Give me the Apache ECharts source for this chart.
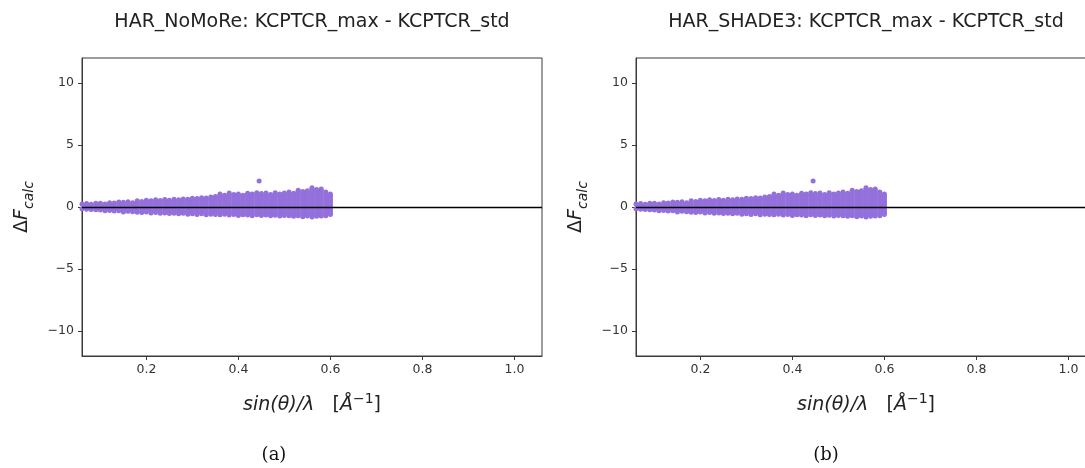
<!DOCTYPE html>
<html>
<head>
<meta charset="utf-8">
<script src="https://cdn.jsdelivr.net/npm/echarts@6/dist/echarts.min.js"></script>
<style>
  html, body { margin: 0; padding: 0; background: #fff; }
  #chart { width: 1085px; height: 468px; }
</style>
</head>
<body>
<div id="chart"></div>
<script>
// Panel titles and captions
const panelTitles = ['HAR_NoMoRe: KCPTCR_max - KCPTCR_std', 'HAR_SHADE3: KCPTCR_max - KCPTCR_std'];
const panelCaptions = ['(a)', '(b)'];

// Tick positions
const xTicks = [0.2, 0.4, 0.6, 0.8, 1.0];
const yTicks = [-10, -5, 0, 5, 10];

// sin(θ)/λ bin centres and the spread of ΔF_calc within each bin
const binX = [0.06, 0.07, 0.08, 0.09, 0.10, 0.11, 0.12, 0.13, 0.14, 0.15,
              0.16, 0.17, 0.18, 0.19, 0.20, 0.21, 0.22, 0.23, 0.24, 0.25,
              0.26, 0.27, 0.28, 0.29, 0.30, 0.31, 0.32, 0.33, 0.34, 0.35,
              0.36, 0.37, 0.38, 0.39, 0.40, 0.41, 0.42, 0.43, 0.44, 0.45,
              0.46, 0.47, 0.48, 0.49, 0.50, 0.51, 0.52, 0.53, 0.54, 0.55,
              0.56, 0.57, 0.58, 0.59, 0.60];
const binUpper = [0.25, 0.28, 0.22, 0.30, 0.30, 0.25, 0.35, 0.32, 0.40, 0.38,
                  0.42, 0.35, 0.50, 0.45, 0.55, 0.50, 0.58, 0.52, 0.60, 0.55,
                  0.62, 0.58, 0.65, 0.62, 0.70, 0.68, 0.75, 0.72, 0.80, 0.85,
                  1.05, 0.95, 1.12, 1.00, 1.05, 0.95, 1.10, 1.05, 1.15, 1.08,
                  1.12, 1.00, 1.15, 1.05, 1.12, 1.20, 1.10, 1.35, 1.25, 1.30,
                  1.55, 1.40, 1.45, 1.20, 1.05];
const binLower = [-0.15, -0.18, -0.20, -0.22, -0.25, -0.30, -0.28, -0.32, -0.30, -0.40,
                  -0.35, -0.38, -0.42, -0.45, -0.40, -0.48, -0.45, -0.50, -0.48, -0.52,
                  -0.50, -0.55, -0.50, -0.58, -0.55, -0.60, -0.55, -0.62, -0.58, -0.60,
                  -0.62, -0.58, -0.65, -0.60, -0.68, -0.62, -0.65, -0.70, -0.62, -0.68,
                  -0.65, -0.70, -0.66, -0.72, -0.68, -0.70, -0.74, -0.70, -0.78, -0.72,
                  -0.80, -0.74, -0.72, -0.70, -0.60];
// isolated reflection above the band
const outlierX = [0.445];
const outlierY = [2.1];

const PURPLE = '#9370db';
const TICK_COLOR = '#333';
const FONT = 'DejaVu Sans';

const chart = echarts.init(document.getElementById('chart'), null, { renderer: 'canvas' });

const plotW = 460, plotH = 298, plotTop = 58;
const panelLeft = [82, 636];
const captionX = [274, 826];

const grids = [], xAxes = [], yAxes = [], series = [], graphics = [];

panelLeft.forEach((left, p) => {
  grids.push({
    left: left, top: plotTop, width: plotW, height: plotH,
    containLabel: false, outerBoundsMode: 'none',
    show: true, borderColor: '#3a3a3a', borderWidth: 1, backgroundColor: '#fff'
  });
  xAxes.push({
    type: 'value', gridIndex: p, min: 0.06, max: 1.06,
    splitLine: { show: false },
    axisLine: { show: true, onZero: false, lineStyle: { color: '#3a3a3a', width: 1 } },
    axisTick: { show: true, inside: false, length: 4, customValues: xTicks, lineStyle: { color: '#3a3a3a' } },
    axisLabel: { show: true, customValues: xTicks, margin: 7, color: TICK_COLOR, fontFamily: FONT, fontSize: 12.5,
                 formatter: v => v.toFixed(1) },
    name: '{i|sin(θ)/λ}   [{i|Å}{sup|−1}]',
    nameLocation: 'middle', nameGap: 36,
    nameTextStyle: {
      color: '#222', fontFamily: FONT, fontSize: 19,
      rich: {
        i: { fontStyle: 'italic', fontFamily: FONT, fontSize: 19, color: '#222', lineHeight: 26 },
        sup: { fontFamily: FONT, fontSize: 14, color: '#222', verticalAlign: 'top', lineHeight: 26 }
      }
    }
  });
  yAxes.push({
    type: 'value', gridIndex: p, min: -12, max: 12,
    splitLine: { show: false },
    axisLine: { show: true, onZero: false, lineStyle: { color: '#3a3a3a', width: 1 } },
    axisTick: { show: true, inside: false, length: 4, customValues: yTicks, lineStyle: { color: '#3a3a3a' } },
    axisLabel: { show: true, customValues: yTicks, margin: 8, color: TICK_COLOR, fontFamily: FONT, fontSize: 12.5,
                 formatter: v => String(v).replace('-', '\u2212') },
    name: '{u|Δ}{i|F}{s|calc}',
    nameLocation: 'middle', nameGap: 46, nameRotate: 90,
    nameTextStyle: {
      color: '#222', fontFamily: FONT,
      rich: {
        u: { fontFamily: FONT, fontSize: 19, color: '#222', lineHeight: 28, verticalAlign: 'middle' },
        i: { fontFamily: FONT, fontStyle: 'italic', fontSize: 19, color: '#222', lineHeight: 28, verticalAlign: 'middle' },
        s: { fontFamily: FONT, fontStyle: 'italic', fontSize: 14, color: '#222', lineHeight: 28, verticalAlign: 'bottom' }
      }
    }
  });

  // filled spread of each bin
  series.push({
    type: 'custom', xAxisIndex: p, yAxisIndex: p, clip: true, z: 2, silent: true,
    data: binX.map((x, i) => [x, binLower[i], binUpper[i]]),
    renderItem: (params, api) => {
      const x = api.value(0);
      const a = api.coord([x - 0.0055, api.value(2)]);
      const b = api.coord([x + 0.0055, api.value(1)]);
      return {
        type: 'rect',
        shape: { x: a[0], y: a[1], width: b[0] - a[0], height: b[1] - a[1] },
        style: { fill: PURPLE }
      };
    }
  });
  // outermost points of each bin plus the isolated reflection
  series.push({
    type: 'scatter', xAxisIndex: p, yAxisIndex: p, clip: true, z: 3, silent: true,
    symbol: 'circle', symbolSize: 5,
    itemStyle: { color: PURPLE, opacity: 1 },
    data: binX.map((x, i) => [x, binUpper[i]])
      .concat(binX.map((x, i) => [x, binLower[i]]))
      .concat(outlierX.map((x, i) => [x, outlierY[i]]))
  });
  // zero reference line
  series.push({
    type: 'line', xAxisIndex: p, yAxisIndex: p, z: 5, silent: true,
    data: [], symbol: 'none',
    markLine: {
      silent: true, symbol: ['none', 'none'], label: { show: false },
      lineStyle: { color: '#000', width: 1.3, type: 'solid' },
      data: [{ yAxis: 0 }]
    }
  });

  // panel title centred over the plot
  graphics.push({
    type: 'text', x: left + plotW / 2, y: 22,
    style: { text: panelTitles[p], fontFamily: FONT, fontSize: 19, fill: '#222',
             textAlign: 'center', textVerticalAlign: 'middle' }
  });
  // caption under the panel
  graphics.push({
    type: 'text', x: captionX[p], y: 455,
    style: { text: panelCaptions[p], fontFamily: 'DejaVu Serif', fontSize: 18, fill: '#111',
             textAlign: 'center', textVerticalAlign: 'middle' }
  });
});

chart.setOption({
  animation: false,
  backgroundColor: '#fff',
  grid: grids,
  xAxis: xAxes,
  yAxis: yAxes,
  series: series,
  graphic: graphics
});
</script>
</body>
</html>
